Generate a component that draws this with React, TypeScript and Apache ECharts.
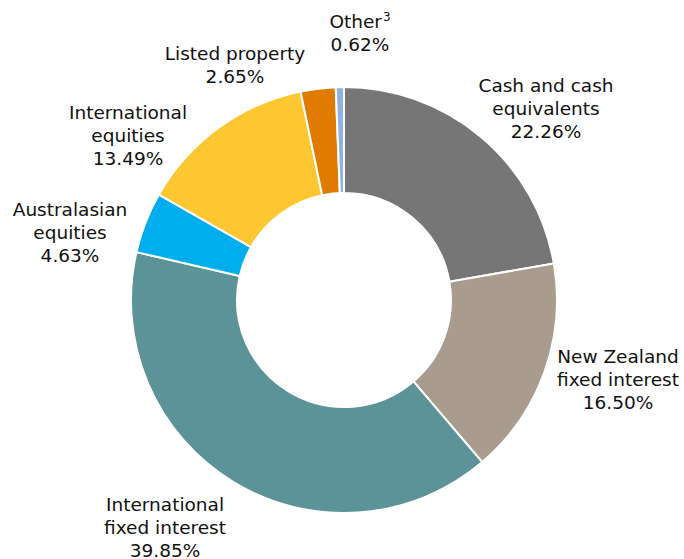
import React, { useEffect, useRef } from "react";
import * as echarts from "echarts";

const categories = [
  "Cash and cash\nequivalents",
  "New Zealand\nfixed interest",
  "International\nfixed interest",
  "Australasian\nequities",
  "International\nequities",
  "Listed property",
  "Other",
];
const superscripts = ["", "", "", "", "", "", "3"];
const values = [22.26, 16.5, 39.85, 4.63, 13.49, 2.65, 0.62];
const colors = ["#767676", "#a99c8e", "#5b9399", "#00aeef", "#fec630", "#e07b00", "#8db3e2"];
const labelCenters = [
  [546, 108],
  [618, 379],
  [165, 527],
  [70, 232],
  [128, 135],
  [235, 65],
  [360, 33],
];

export default function App() {
  const ref = useRef<HTMLDivElement>(null);
  useEffect(() => {
    document.body.style.margin = "0";
    const chart = echarts.init(ref.current!, null, { renderer: "svg" });
    chart.setOption({
      animation: false,
      backgroundColor: "#ffffff",
      series: [
        {
          type: "pie",
          center: [344, 300],
          radius: [107, 213],
          startAngle: 90,
          clockwise: true,
          avoidLabelOverlap: false,
          itemStyle: { borderColor: "#ffffff", borderWidth: 2 },
          label: {
            show: true,
            position: "outside",
            formatter: (p: any) => {
              const sup = superscripts[p.dataIndex];
              const lines = p.name.split("\n").map((l: string) => `{t|${l}}`);
              if (sup) lines[lines.length - 1] += `{s|${sup}}`;
              return `${lines.join("\n")}\n{t|${p.value.toFixed(2)}%}`;
            },
            fontFamily: "DejaVu Sans, Verdana, sans-serif",
            fontSize: 18.5,
            lineHeight: 23,
            color: "#111111",
            align: "center",
            rich: {
              t: {
                fontFamily: "DejaVu Sans, Verdana, sans-serif",
                fontSize: 18.5,
                lineHeight: 23,
                color: "#111111",
              },
              s: {
                fontFamily: "DejaVu Sans, Verdana, sans-serif",
                fontSize: 12,
                lineHeight: 23,
                color: "#111111",
                padding: [0, 0, 9, 1],
              },
            },
          },
          labelLine: { show: false },
          labelLayout: (params: any) => {
            const c = labelCenters[params.dataIndex];
            return { x: c[0], y: c[1], align: "center", verticalAlign: "middle" };
          },
          emphasis: { disabled: true },
          data: categories.map((name, i) => ({
            name,
            value: values[i],
            itemStyle: { color: colors[i] },
          })),
        },
      ],
    });
    return () => chart.dispose();
  }, []);
  return (
    <div
      ref={ref}
      style={{ position: "absolute", left: 0, top: 0, width: 684, height: 559 }}
    />
  );
}
